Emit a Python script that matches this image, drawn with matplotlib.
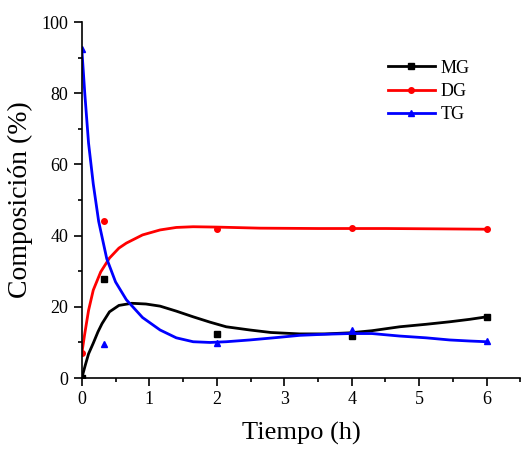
import matplotlib
matplotlib.use('Agg')
import matplotlib.pyplot as plt
from matplotlib.ticker import MultipleLocator

plt.rcParams['font.family'] = ['Liberation Serif', 'DejaVu Serif']

# measured points
t_pts = [0, 0.33, 2, 4, 6]
mg_pts = [0, 27.7, 12.4, 11.8, 17.2]
dg_pts = [7, 44.2, 42.0, 42.1, 41.8]
tg_pts = [92.5, 9.7, 9.9, 13.5, 10.3]

# fitted curves
mg_t = [0, 0.05, 0.1, 0.17, 0.24, 0.3, 0.41, 0.55, 0.74, 0.95, 1.16, 1.4, 1.65, 1.9, 2.14, 2.49, 2.8, 3.23, 3.6, 3.97, 4.3, 4.71, 5.1, 5.45, 5.75, 6.0]
mg_y = [0, 3.5, 6.8, 9.8, 13.0, 15.3, 18.6, 20.4, 21.0, 20.8, 20.2, 18.8, 17.2, 15.7, 14.4, 13.5, 12.8, 12.4, 12.4, 12.7, 13.3, 14.4, 15.1, 15.8, 16.5, 17.2]
dg_t = [0, 0.04, 0.1, 0.17, 0.28, 0.41, 0.55, 0.66, 0.9, 1.16, 1.4, 1.65, 2.0, 2.64, 3.5, 4.5, 5.3, 6.0]
dg_y = [6.9, 12.0, 19.0, 24.7, 29.8, 33.7, 36.5, 37.9, 40.2, 41.6, 42.3, 42.5, 42.4, 42.1, 42.0, 42.0, 41.9, 41.8]
tg_t = [0, 0.044, 0.1, 0.17, 0.25, 0.37, 0.5, 0.66, 0.9, 1.16, 1.4, 1.65, 1.9, 2.14, 2.49, 2.9, 3.23, 3.6, 3.97, 4.3, 4.71, 5.1, 5.45, 5.75, 6.0]
tg_y = [92.5, 80.0, 66.0, 54.5, 44.0, 33.5, 27.0, 22.0, 17.0, 13.5, 11.3, 10.2, 10.0, 10.2, 10.7, 11.4, 12.0, 12.3, 12.5, 12.5, 11.8, 11.3, 10.7, 10.4, 10.2]

fig = plt.figure(figsize=(5.21, 4.49), dpi=100)
ax = fig.add_axes([0.157, 0.158, 0.842, 0.793])

series = [
    ('MG', 'black', 's', mg_t, mg_y, mg_pts),
    ('DG', 'red', 'o', dg_t, dg_y, dg_pts),
    ('TG', 'blue', '^', tg_t, tg_y, tg_pts),
]
for name, color, marker, ct, cy, py in series:
    ax.plot(ct, cy, color=color, lw=2)
    ax.plot(t_pts, py, linestyle='none', marker=marker, color=color, ms=4)
    # legend proxy: line with marker in the middle
    ax.plot([], [], color=color, lw=2, marker=marker, ms=4, label=name)

ax.set_xlim(0, 6.5)
ax.set_ylim(0, 100)
ax.xaxis.set_major_locator(MultipleLocator(1))
ax.xaxis.set_minor_locator(MultipleLocator(0.5))
ax.yaxis.set_major_locator(MultipleLocator(20))
ax.yaxis.set_minor_locator(MultipleLocator(10))
ax.tick_params(which='both', direction='out', width=1.2, labelsize=13)
ax.tick_params(which='major', length=6)
ax.tick_params(which='minor', length=3)
for s in ['top', 'right']:
    ax.spines[s].set_visible(False)
for s in ['left', 'bottom']:
    ax.spines[s].set_linewidth(1.2)

ax.set_xlabel('Tiempo (h)', fontsize=19, labelpad=10)
ax.set_ylabel('Composición (%)', fontsize=20, labelpad=6)

ax.legend(loc='upper left', bbox_to_anchor=(0.66, 0.94), frameon=False,
          fontsize=13, handlelength=2.6, labelspacing=0.35, handletextpad=0.35)

fig.savefig('out.png', dpi=100)
